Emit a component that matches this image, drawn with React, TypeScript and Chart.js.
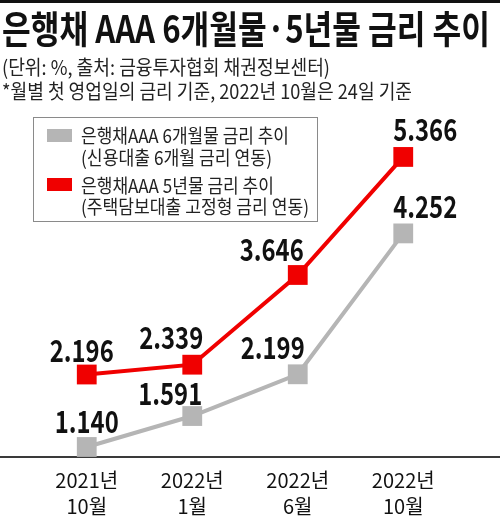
import React, { useEffect, useRef } from 'react';
import { Chart, registerables } from 'chart.js';

Chart.register(...registerables);

// ---- data ----
const categories = [
  ['2021년', '10월'],
  ['2022년', '1월'],
  ['2022년', '6월'],
  ['2022년', '10월'],
];
const sixMonthRates = [1.14, 1.591, 2.199, 4.252];
const fiveYearRates = [2.196, 2.339, 3.646, 5.366];
const sixMonthLegend = ['은행채AAA 6개월물 금리 추이', '(신용대출 6개월 금리 연동)'];
const fiveYearLegend = ['은행채AAA 5년물 금리 추이', '(주택담보대출 고정형 금리 연동)'];
const titleText = '은행채 AAA 6개월물·5년물 금리 추이';
const subtitleLines = [
  '(단위: %, 출처: 금융투자협회 채권정보센터)',
  '*월별 첫 영업일의 금리 기준, 2022년 10월은 24일 기준',
];

// ---- style ----
const GRAY = '#b5b5b5';
const RED = '#f00000';
const FONT = '"Noto Sans CJK KR", "Noto Sans", sans-serif';
// value label offsets (dx, dy) relative to each point, per dataset
const labelOffsets = [
  [[0, -26], [-22, -23], [-25, -27], [22, -27]],
  [[-5, -24], [-21, -27], [-26, -26], [22, -28]],
];

function txt(ctx: CanvasRenderingContext2D, s: string, x: number, y: number, font: string, color: string, maxW?: number, align: CanvasTextAlign = 'left') {
  ctx.font = font;
  ctx.fillStyle = color;
  ctx.textAlign = align;
  ctx.textBaseline = 'middle';
  if (maxW) ctx.fillText(s, x, y, maxW);
  else ctx.fillText(s, x, y);
}

const annotate = {
  id: 'annotate',
  beforeDatasetsDraw(chart: any) {
    const ctx = chart.ctx as CanvasRenderingContext2D;
    const y = chart.chartArea.bottom;
    ctx.save();
    ctx.strokeStyle = '#3a3a3a';
    ctx.lineWidth = 2;
    ctx.beginPath();
    ctx.moveTo(0, y);
    ctx.lineTo(chart.width, y);
    ctx.stroke();
    ctx.restore();
  },
  afterDatasetsDraw(chart: any) {
    const ctx = chart.ctx as CanvasRenderingContext2D;
    ctx.save();
    chart.data.datasets.forEach((ds: any, di: number) => {
      const meta = chart.getDatasetMeta(di);
      meta.data.forEach((pt: any, i: number) => {
        const [dx, dy] = labelOffsets[di][i];
        txt(ctx, Number(ds.data[i]).toFixed(3), pt.x + dx, pt.y + dy, `bold 31px ${FONT}`, '#111', 64, 'center');
      });
    });
    ctx.restore();
  },
  afterDraw(chart: any) {
    const ctx = chart.ctx as CanvasRenderingContext2D;
    ctx.save();
    // top rule
    ctx.fillStyle = '#111';
    ctx.fillRect(0, 0, chart.width, 3);
    // title & subtitles
    txt(ctx, titleText, 2, 29, `bold 38px ${FONT}`, '#111', 488);
    txt(ctx, subtitleLines[0], 2, 67, `20px ${FONT}`, '#222', 328);
    txt(ctx, subtitleLines[1], 2, 91, `20px ${FONT}`, '#222', 410);
    // legend box
    ctx.fillStyle = '#fff';
    ctx.fillRect(33.5, 117.5, 284, 104);
    ctx.strokeStyle = '#8a8a8a';
    ctx.lineWidth = 1;
    ctx.strokeRect(33.5, 117.5, 284, 104);
    const ds = chart.data.datasets;
    ctx.fillStyle = ds[0].borderColor;
    ctx.fillRect(47, 129, 25, 13);
    ctx.fillStyle = ds[1].borderColor;
    ctx.fillRect(47, 178, 25, 13);
    txt(ctx, sixMonthLegend[0], 81, 136, `19px ${FONT}`, '#222', 208);
    txt(ctx, sixMonthLegend[1], 81, 158, `19px ${FONT}`, '#222', 191);
    txt(ctx, fiveYearLegend[0], 81, 186, `19px ${FONT}`, '#222', 193);
    txt(ctx, fiveYearLegend[1], 81, 207, `19px ${FONT}`, '#222', 228);
    ctx.restore();
  },
};

export default function App() {
  const ref = useRef<HTMLCanvasElement>(null);
  useEffect(() => {
    if (!ref.current) return;
    const chart = new Chart(ref.current, {
      type: 'line',
      data: {
        labels: categories,
        datasets: [
          {
            label: sixMonthLegend.join(' '),
            data: sixMonthRates,
            borderColor: GRAY,
            backgroundColor: GRAY,
            borderWidth: 4,
            pointStyle: 'rect',
            pointRadius: 14,
            pointHoverRadius: 14,
            pointBorderWidth: 0,
            tension: 0,
            clip: false as any,
          },
          {
            label: fiveYearLegend.join(' '),
            data: fiveYearRates,
            borderColor: RED,
            backgroundColor: RED,
            borderWidth: 4,
            pointStyle: 'rect',
            pointRadius: 14,
            pointHoverRadius: 14,
            pointBorderWidth: 0,
            tension: 0,
            clip: false as any,
          },
        ],
      },
      options: {
        animation: false,
        responsive: true,
        maintainAspectRatio: false,
        events: [],
        layout: { padding: { left: 34, right: 44, top: 110, bottom: 3 } },
        plugins: {
          legend: { display: false },
          tooltip: { enabled: false },
          title: { display: false },
        },
        scales: {
          x: {
            offset: true,
            grid: { display: false, drawTicks: false },
            border: { display: false },
            ticks: {
              color: '#111',
              font: { family: FONT, size: 20, lineHeight: 1.3 },
              padding: 10,
              maxRotation: 0,
              autoSkip: false,
            },
            afterFit(scale: any) {
              scale.height = 59;
            },
          },
          y: {
            display: false,
            min: 0.994,
            max: 6.05,
          },
        },
      },
      plugins: [annotate],
    });
    return () => chart.destroy();
  }, []);
  return (
    <div style={{ position: 'absolute', left: 0, top: 0, width: 500, height: 519, background: '#fff' }}>
      <canvas ref={ref} />
    </div>
  );
}
